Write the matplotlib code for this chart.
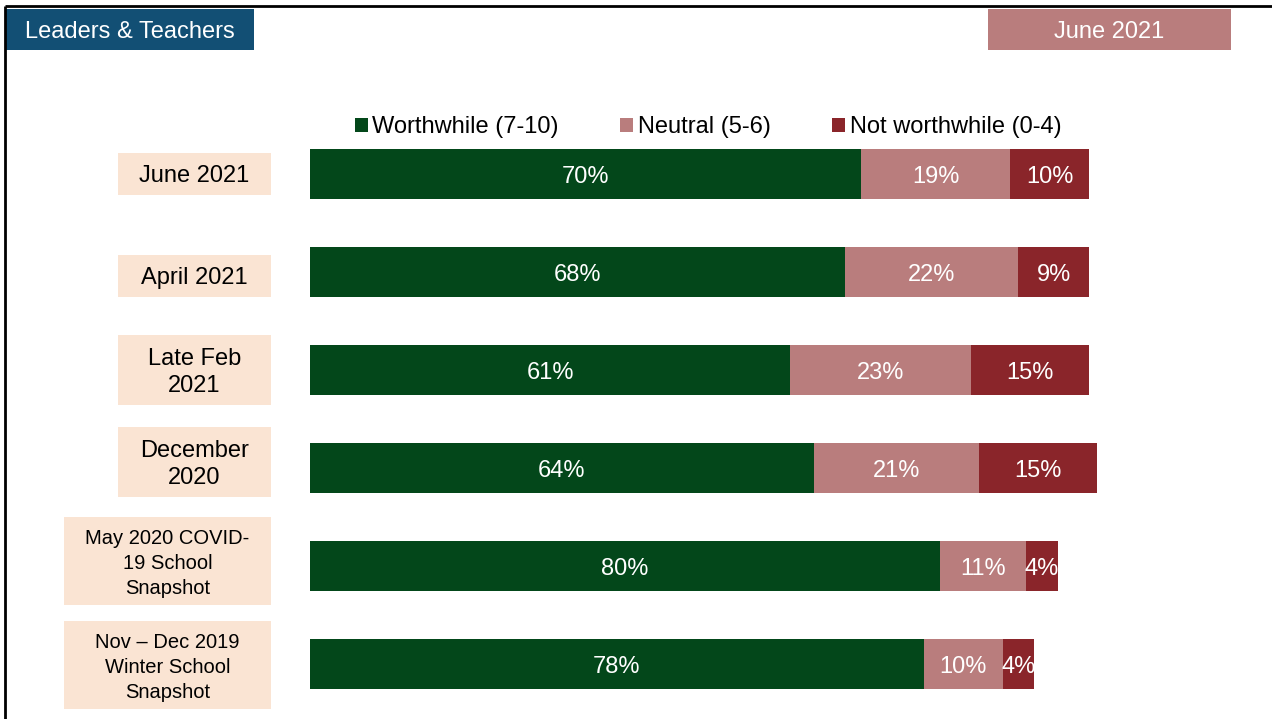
import matplotlib
matplotlib.use("Agg")
import matplotlib.pyplot as plt
from matplotlib.patches import Rectangle

plt.rcParams['font.family'] = ['Liberation Sans', 'DejaVu Sans']

# ---- data ----
categories = [
    "June 2021",
    "April 2021",
    "Late Feb\n2021",
    "December\n2020",
    "May 2020 COVID-\n19 School\nSnapshot",
    "Nov – Dec 2019\nWinter School\nSnapshot",
]
series_names = ["Worthwhile (7-10)", "Neutral (5-6)", "Not worthwhile (0-4)"]
worthwhile = [70, 68, 61, 64, 80, 78]
neutral = [19, 22, 23, 21, 11, 10]
not_worthwhile = [10, 9, 15, 15, 4, 4]
header_left = "Leaders & Teachers"
header_right = "June 2021"

# ---- style ----
GREEN = "#03471a"
PINK = "#b97d7d"
RED = "#8a252a"
NAVY = "#124f74"
PEACH = "#fae4d3"
FS = 17

W, H = 1272, 719
fig = plt.figure(figsize=(W / 100, H / 100), dpi=100)

# overlay in pixel coordinates for frame, headers and label boxes
ov = fig.add_axes([0, 0, 1, 1], zorder=0)
ov.set_xlim(0, W)
ov.set_ylim(H, 0)
ov.axis("off")

# bar axes
ax = fig.add_axes([310 / W, 1 - 713.5 / H, 787 / W, 588.5 / H], zorder=1)
ax.patch.set_alpha(0)
ax.set_xlim(0, 100)
ax.set_ylim(len(categories) - 0.5, -0.5)
ax.axis("off")

y = list(range(len(categories)))
left2 = [a for a in worthwhile]
left3 = [a + b for a, b in zip(worthwhile, neutral)]
bh = 0.51
b1 = ax.barh(y, worthwhile, height=bh, color=GREEN, label=series_names[0])
b2 = ax.barh(y, neutral, left=left2, height=bh, color=PINK, label=series_names[1])
b3 = ax.barh(y, not_worthwhile, left=left3, height=bh, color=RED, label=series_names[2])
for cont, vals in ((b1, worthwhile), (b2, neutral), (b3, not_worthwhile)):
    texts = ax.bar_label(cont, labels=[f"{v}%" for v in vals], label_type="center",
                         color="white", fontsize=FS)
    for t in texts:
        t.set_va("center_baseline")

fig.legend(handles=[b1, b2, b3], labels=series_names, loc="center",
           bbox_to_anchor=(708 / W, 1 - 127 / H), ncol=3, frameon=False,
           fontsize=FS, handlelength=0.55, handleheight=0.55,
           handletextpad=0.2, columnspacing=2.6, borderaxespad=0)

# category label boxes
fig.canvas.draw()
box_left = [118, 118, 118, 118, 64, 64]
box_h = [42, 42, 70, 70, 88, 88]
box_dy = [0, 4, 0, -6, -5, 1]
label_size = [FS, FS, FS, FS, 14.5, 14.5]
label_ls = [1.0, 1.0, 1.3, 1.3, 1.4, 1.4]
for i, lab in enumerate(categories):
    cy = H - ax.transData.transform((0, i))[1] + box_dy[i]
    ov.add_patch(Rectangle((box_left[i], cy - box_h[i] / 2), 271 - box_left[i], box_h[i],
                           facecolor=PEACH, edgecolor="none"))
    ov.text((box_left[i] + 271) / 2, cy + 2, lab, ha="center", va="center",
            fontsize=label_size[i], color="black", linespacing=label_ls[i])

# frame lines
ov.plot([5, W], [6, 6], color="black", lw=2, solid_capstyle="butt")
ov.plot([5, 5], [6, H], color="black", lw=2, solid_capstyle="butt")

# header boxes
ov.add_patch(Rectangle((6, 9), 248, 41, facecolor=NAVY, edgecolor="none"))
ov.text(130, 31.5, header_left, ha="center", va="center", color="white", fontsize=FS)
ov.add_patch(Rectangle((988, 9), 243, 41, facecolor=PINK, edgecolor="none"))
ov.text(1109.5, 31.5, header_right, ha="center", va="center", color="white", fontsize=FS)

fig.savefig("out.png", dpi=100)
